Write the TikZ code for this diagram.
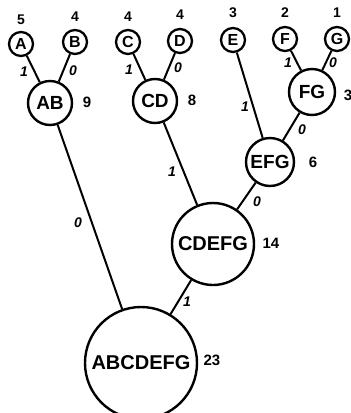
\documentclass[tikz,border=0pt]{standalone}
\usepackage{fontspec}
\setmainfont{Liberation Sans}
\begin{document}
\begin{tikzpicture}[x=1pt,y=-1pt,
  nd/.style={circle,draw,line width=2.4pt,inner sep=0pt,font=\bfseries\fontsize{19}{19}\selectfont},
  leaf/.style={nd,minimum size=24pt,line width=2.3pt,font=\bfseries\fontsize{16}{16}\selectfont},
  wt/.style={font=\bfseries\fontsize{15}{15}\selectfont,inner sep=0pt},
  topwt/.style={font=\bfseries\fontsize{14}{14}\selectfont,inner sep=0pt},
  el/.style={font=\bfseries\itshape\fontsize{14}{14}\selectfont,inner sep=0pt},
  edge/.style={line width=2pt}]
\useasboundingbox (0,0) rectangle (351,413);
\clip (0,0) rectangle (351,413);
% leaves
\node[leaf] (A) at (21,44) {A};
\node[leaf] (B) at (75,42) {B};
\node[leaf] (C) at (128,42) {C};
\node[leaf] (D) at (180,41) {D};
\node[leaf] (E) at (233,40) {E};
\node[leaf] (F) at (285,39) {F};
\node[leaf] (G) at (337,39) {G};
\node[topwt] (wA) at (21,20) {5};
\node[topwt] (wB) at (75,17) {4};
\node[topwt] (wC) at (128,17) {4};
\node[topwt] (wD) at (180,15) {4};
\node[topwt] (wE) at (233,13) {3};
\node[topwt] (wF) at (285,13) {2};
\node[topwt] (wG) at (337,13) {1};
% internal nodes
\node[nd,minimum size=44pt] (AB) at (50,103) {AB};
\node[nd,minimum size=44pt] (CD) at (155,101) {CD};
\node[nd,minimum size=46pt] (FG) at (312,92) {FG};
\node[nd,minimum size=48pt] (EFG) at (270,162) {EFG};
\node[nd,minimum size=82pt,font=\bfseries\fontsize{20}{20}\selectfont] (CDEFG) at (213,244) {CDEFG};
\node[nd,minimum size=112pt,font=\bfseries\fontsize{20}{20}\selectfont] (ALL) at (141,363) {ABCDEFG};
\node[wt] (wAB) at (87,102) {9};
\node[wt] (wCD) at (192,100) {8};
\node[wt] (wFG) at (348,95) {3};
\node[wt] (wEFG) at (313,162) {6};
\node[wt] (wCDEFG) at (271,243) {14};
\node[wt] (wALL) at (212,360) {23};
% edges
\draw[edge] (A) -- (AB);
\draw[edge] (B) -- (AB);
\draw[edge] (C) -- (CD);
\draw[edge] (D) -- (CD);
\draw[edge] (F) -- (FG);
\draw[edge] (G) -- (FG);
\draw[edge] (E) -- (EFG);
\draw[edge] (FG) -- (EFG);
\draw[edge] (CD) -- (CDEFG);
\draw[edge] (EFG) -- (CDEFG);
\draw[edge] (AB) -- (ALL);
\draw[edge] (CDEFG) -- (ALL);
% edge labels
\node[el] (l1) at (24,72) {1};
\node[el] (l2) at (73,71) {0};
\node[el] (l3) at (129,70) {1};
\node[el] (l4) at (178,68) {0};
\node[el] (l5) at (288,63) {1};
\node[el] (l6) at (333,63) {0};
\node[el] (l7) at (245,107) {1};
\node[el] (l8) at (302,130) {0};
\node[el] (l9) at (257,202) {0};
\node[el] (l10) at (172,172) {1};
\node[el] (l11) at (78,223) {0};
\node[el] (l12) at (187,302) {1};
\end{tikzpicture}
\end{document}
